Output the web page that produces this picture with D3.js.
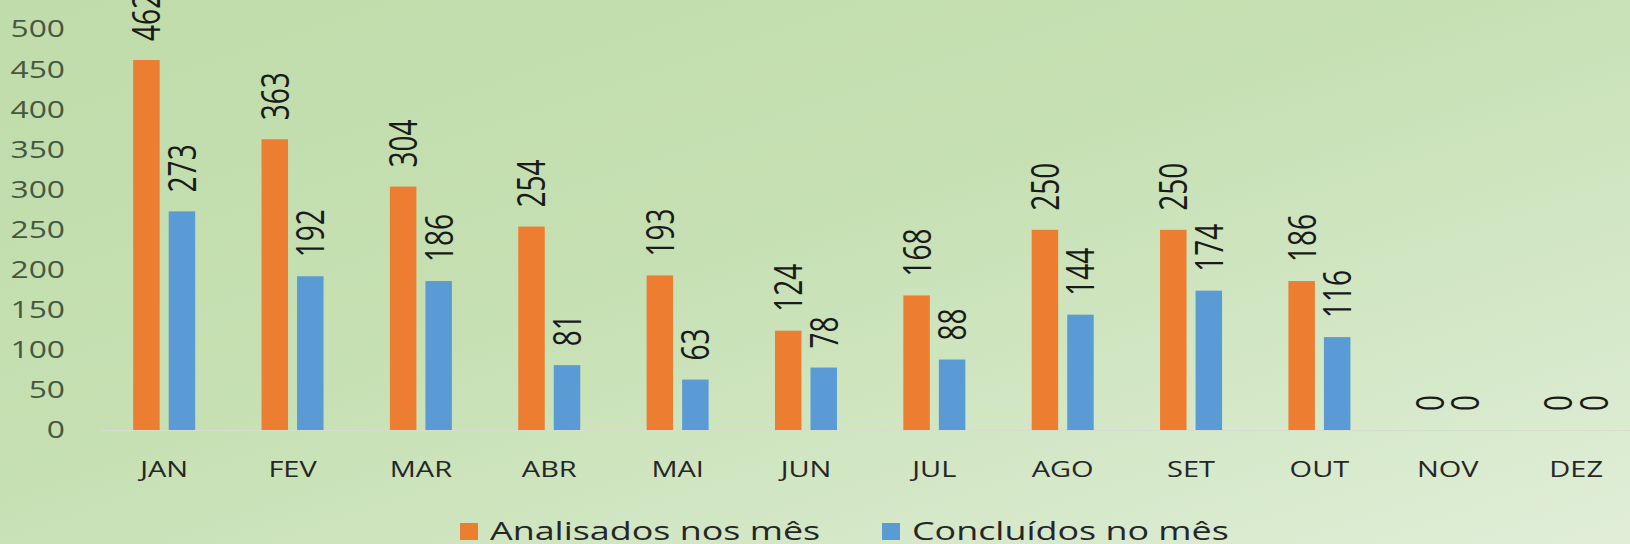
<!DOCTYPE html>
<meta charset="utf-8">
<script src="https://d3js.org/d3.v7.min.js"></script>
<style>
  body { margin: 0; overflow: hidden; }
  svg { display: block; }
</style>
<div id="my_dataviz"></div>

<script>
  // data
  var months = ["JAN", "FEV", "MAR", "ABR", "MAI", "JUN", "JUL", "AGO", "SET", "OUT", "NOV", "DEZ"];
  var analisados = [462, 363, 304, 254, 193, 124, 168, 250, 250, 186, 0, 0];
  var concluidos = [273, 192, 186, 81, 63, 78, 88, 144, 174, 116, 0, 0];
  var yTicks = [0, 50, 100, 150, 200, 250, 300, 350, 400, 450, 500];
  var seriesNames = ["Analisados nos mês", "Concluídos no mês"];
  var seriesColors = ["#ed7d31", "#5b9bd5"];

  // the original picture is stretched sideways, so draw in a narrower viewBox
  var k = 1.38;
  var width = 1630, height = 544;
  var vw = width / k;

  var svg = d3.select("#my_dataviz")
    .append("svg")
    .attr("width", width)
    .attr("height", height)
    .attr("viewBox", "0 0 " + vw + " " + height)
    .attr("preserveAspectRatio", "none");

  // background gradient
  var grad = svg.append("defs").append("linearGradient")
    .attr("id", "bg")
    .attr("x1", "0").attr("y1", "0").attr("x2", "1").attr("y2", "1");
  grad.append("stop").attr("offset", "0%").attr("stop-color", "#c0dcaa");
  grad.append("stop").attr("offset", "45%").attr("stop-color", "#c6e0b3");
  grad.append("stop").attr("offset", "100%").attr("stop-color", "#e0eed8");

  svg.append("rect")
    .attr("width", vw)
    .attr("height", height)
    .attr("fill", "url(#bg)");

  // scales
  var x0 = d3.scaleBand()
    .domain(months)
    .range([100 / k, (100 + 12 * 128.36) / k])
    .paddingInner(0.517)
    .paddingOuter(0.2585);

  var x1 = d3.scaleBand()
    .domain([0, 1])
    .range([0, x0.bandwidth()])
    .paddingInner(0.254);

  var y = d3.scaleLinear()
    .domain([0, 500])
    .range([430, 29.6]);

  // Y axis
  var yAxis = svg.append("g")
    .attr("transform", "translate(" + (65 / k) + ",0)")
    .call(d3.axisLeft(y).tickValues(yTicks).tickSize(0).tickPadding(0));
  yAxis.select(".domain").remove();
  yAxis.selectAll("text")
    .attr("font-family", "Open Sans, sans-serif")
    .attr("font-size", "23px")
    .attr("fill", "#48573f");

  // X axis
  var xAxis = svg.append("g")
    .attr("transform", "translate(0," + y(0) + ")")
    .call(d3.axisBottom(x0).tickSize(0).tickPadding(32));
  xAxis.select(".domain")
    .attr("stroke", "#d6ddd0")
    .attr("stroke-width", 1.2);
  xAxis.selectAll("text")
    .attr("font-family", "Open Sans, sans-serif")
    .attr("font-size", "21px")
    .attr("fill", "#262626");

  // bars
  var rows = months.map(function (m, i) {
    return { month: m, values: [analisados[i], concluidos[i]] };
  });

  var groups = svg.append("g")
    .selectAll("g")
    .data(rows)
    .enter()
    .append("g")
    .attr("transform", function (d) { return "translate(" + x0(d.month) + ",0)"; });

  groups.selectAll("rect")
    .data(function (d) { return d.values.map(function (v, s) { return { s: s, v: v }; }); })
    .enter()
    .append("rect")
    .attr("x", function (d) { return x1(d.s); })
    .attr("y", function (d) { return y(d.v); })
    .attr("width", x1.bandwidth())
    .attr("height", function (d) { return y(0) - y(d.v); })
    .attr("fill", function (d) { return seriesColors[d.s]; });

  // rotated value labels
  groups.selectAll("text")
    .data(function (d) { return d.values.map(function (v, s) { return { s: s, v: v }; }); })
    .enter()
    .append("text")
    .text(function (d) { return d.v; })
    .attr("transform", function (d) {
      return "translate(" + (x1(d.s) + x1.bandwidth() / 2) + "," + (y(d.v) - 19) + ") rotate(-90)";
    })
    .attr("dy", "0.36em")
    .attr("text-anchor", "start")
    .attr("font-family", "Open Sans, sans-serif")
    .attr("font-size", "28px")
    .attr("fill", "#1a1a1a");

  // legend
  var legendX = [460 / k, 882 / k];
  var legend = svg.append("g")
    .selectAll("g")
    .data(seriesNames)
    .enter()
    .append("g")
    .attr("transform", function (d, i) { return "translate(" + legendX[i] + ",0)"; });

  legend.append("rect")
    .attr("x", 0)
    .attr("y", 523)
    .attr("width", 18 / k)
    .attr("height", 17)
    .attr("fill", function (d, i) { return seriesColors[i]; });

  legend.append("text")
    .text(function (d) { return d; })
    .attr("x", 30 / k)
    .attr("y", 540)
    .attr("font-family", "Open Sans, sans-serif")
    .attr("font-size", "26px")
    .attr("fill", "#262626");
</script>
